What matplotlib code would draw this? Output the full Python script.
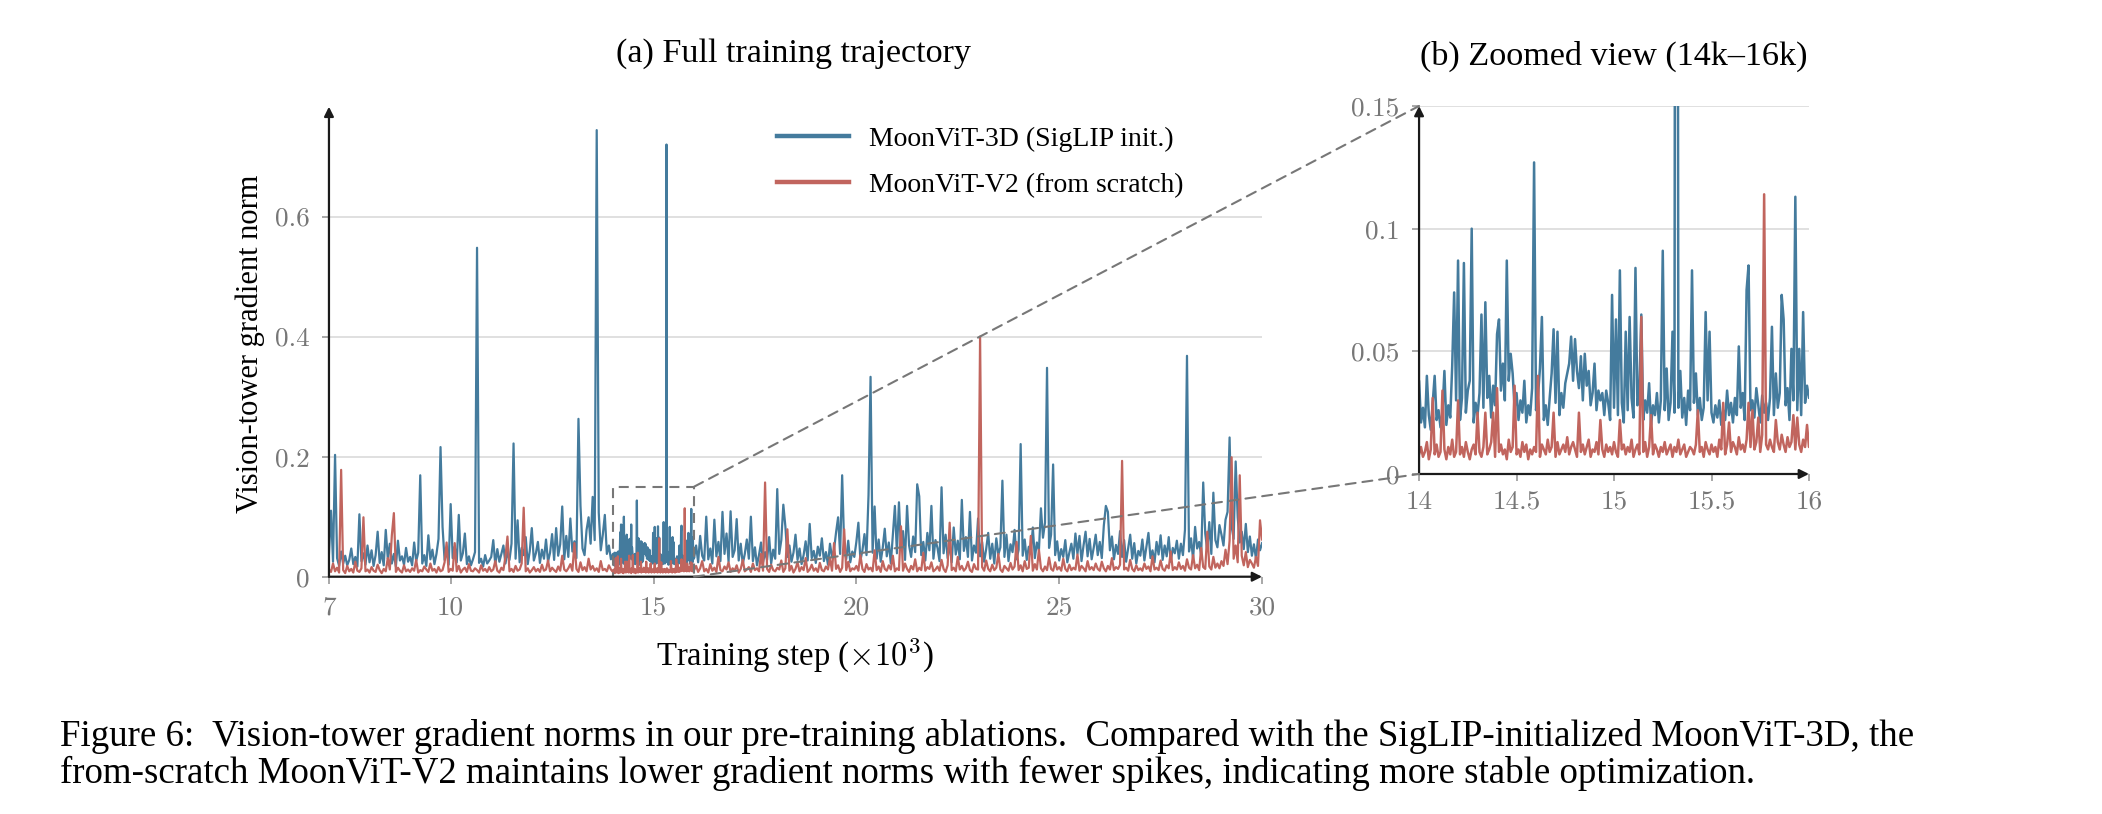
import numpy as np
import matplotlib
matplotlib.use("Agg")
import matplotlib.pyplot as plt
from matplotlib.patches import Rectangle, ConnectionPatch

plt.rcParams['font.family'] = ['Liberation Serif', 'DejaVu Serif']
plt.rcParams['mathtext.fontset'] = 'cm'
plt.rcParams['axes.formatter.use_mathtext'] = True

# training steps (x 10^3): coarse outside the zoom window, fine inside it
early_steps = np.arange(7000, 14000, 50) / 1000
zoom_steps = np.arange(14000, 16000, 10) / 1000
late_steps = np.arange(16000, 30001, 50) / 1000

# vision-tower gradient norm, in units of 1e-3
# MoonViT-3D (SigLIP init.)
siglip_early = [
    38, 110, 25, 203, 31, 18, 42, 22, 35, 19, 28, 47, 21, 33, 17, 104, 26, 39, 20, 52,
    24, 44, 18, 36, 75, 23, 41, 19, 78, 30, 55, 22, 38, 17, 60, 27, 34, 20, 48, 25,
    33, 19, 57, 26, 40, 169, 22, 36, 18, 69, 29, 45, 21, 38, 63, 216, 83, 28, 44, 20,
    121, 31, 50, 24, 103, 27, 39, 72, 21, 34, 19, 29, 41, 548, 23, 30, 17, 36, 22, 27,
    33, 61, 20, 46, 25, 38, 52, 22, 41, 28, 55, 222, 30, 94, 24, 48, 36, 66, 21, 43,
    81, 27, 39, 58, 23, 45, 30, 62, 25, 40, 71, 28, 81, 35, 54, 117, 29, 68, 33, 97,
    42, 59, 31, 263, 118, 47, 36, 78, 99, 55, 133, 61, 744, 107, 44, 70, 103, 38, 52, 29,
]
siglip_zoom = [
    38, 21, 27, 19, 40, 24, 18, 29, 40, 22, 26, 19, 25, 42, 20, 28, 23, 44, 74, 30,
    87, 22, 31, 86, 25, 34, 38, 100, 21, 29, 24, 33, 65, 27, 70, 31, 40, 23, 36, 28,
    57, 63, 34, 45, 30, 87, 38, 49, 41, 27, 33, 22, 30, 25, 38, 21, 28, 24, 35, 127,
    26, 32, 43, 64, 22, 28, 20, 31, 41, 59, 29, 58, 24, 33, 27, 37, 41, 45, 56, 38,
    55, 42, 35, 48, 30, 49, 36, 42, 28, 33, 45, 26, 34, 30, 33, 24, 34, 29, 22, 73,
    27, 63, 24, 83, 29, 21, 58, 26, 64, 31, 23, 84, 28, 35, 65, 22, 30, 25, 37, 20,
    28, 24, 33, 21, 30, 91, 26, 43, 22, 29, 58, 25, 720, 27, 42, 23, 31, 20, 34, 26,
    83, 29, 41, 24, 31, 22, 27, 66, 30, 58, 25, 21, 28, 23, 30, 20, 26, 22, 34, 24,
    29, 21, 31, 24, 52, 27, 33, 22, 75, 85, 26, 30, 23, 35, 28, 21, 32, 25, 29, 22,
    31, 60, 24, 41, 27, 33, 73, 63, 28, 35, 22, 51, 30, 113, 26, 51, 24, 66, 29, 36,
]
siglip_late = [
    31, 52, 24, 68, 35, 27, 100, 29, 47, 22, 95, 34, 58, 26, 108, 38, 72, 25, 109, 33,
    44, 96, 27, 55, 21, 38, 62, 30, 100, 26, 49, 19, 36, 57, 24, 41, 28, 66, 22, 45,
    30, 146, 38, 61, 120, 84, 33, 52, 25, 40, 70, 28, 47, 21, 36, 59, 27, 88, 31, 43,
    23, 50, 35, 64, 26, 41, 20, 55, 32, 45, 74, 99, 38, 169, 51, 29, 60, 24, 42, 33,
    58, 90, 27, 44, 71, 36, 136, 333, 40, 117, 30, 62, 25, 48, 80, 34, 57, 22, 69, 118,
    39, 124, 45, 76, 28, 118, 52, 33, 67, 41, 154, 134, 36, 58, 27, 73, 44, 118, 30, 61,
    48, 26, 149, 39, 70, 31, 55, 24, 82, 37, 60, 29, 128, 43, 66, 33, 108, 27, 52, 40,
    97, 34, 58, 25, 46, 73, 30, 55, 22, 64, 37, 49, 160, 33, 70, 26, 54, 41, 78, 29,
    45, 221, 35, 62, 28, 50, 39, 82, 31, 57, 44, 114, 65, 90, 348, 48, 70, 187, 36, 59,
    27, 46, 33, 61, 24, 40, 55, 30, 72, 38, 68, 26, 52, 75, 34, 63, 29, 48, 70, 36,
    58, 31, 85, 118, 108, 44, 67, 29, 53, 38, 76, 33, 61, 25, 47, 70, 30, 56, 22, 43,
    35, 62, 27, 50, 73, 31, 44, 24, 58, 37, 69, 28, 52, 34, 66, 25, 48, 39, 60, 30,
    55, 36, 78, 368, 42, 64, 29, 83, 47, 58, 35, 157, 72, 44, 91, 38, 140, 61, 49, 86,
    70, 52, 95, 108, 232, 84, 63, 192, 99, 57, 75, 46, 88, 41, 67, 35, 54, 30, 62, 44,
    56,
]

# MoonViT-V2 (from scratch)
scratch_early = [
    12, 8, 22, 9, 15, 7, 178, 11, 6, 18, 9, 13, 7, 25, 10, 8, 14, 99, 9, 12,
    7, 16, 10, 8, 20, 11, 6, 13, 9, 31, 12, 69, 106, 8, 15, 10, 7, 19, 9, 12,
    8, 14, 10, 28, 7, 11, 9, 17, 12, 8, 22, 10, 13, 7, 16, 9, 11, 24, 57, 8,
    13, 10, 56, 9, 18, 7, 12, 15, 8, 21, 10, 9, 14, 11, 7, 19, 10, 13, 8, 16,
    9, 12, 26, 10, 7, 15, 11, 33, 67, 9, 13, 8, 18, 10, 12, 22, 115, 9, 14, 7,
    11, 16, 9, 13, 8, 20, 10, 12, 27, 9, 15, 11, 8, 17, 10, 35, 12, 9, 14, 21,
    10, 56, 13, 8, 24, 11, 16, 9, 30, 12, 18, 10, 14, 8, 26, 11, 13, 9, 19, 12,
]
scratch_zoom = [
    8, 11, 7, 9, 13, 6, 10, 31, 8, 12, 7, 9, 34, 10, 6, 11, 8, 14, 7, 9,
    30, 8, 11, 7, 13, 9, 6, 10, 12, 8, 25, 9, 7, 11, 25, 8, 10, 13, 25, 7,
    35, 9, 12, 8, 10, 6, 14, 9, 11, 36, 8, 10, 7, 13, 9, 12, 6, 10, 8, 11,
    9, 40, 7, 12, 10, 8, 14, 9, 11, 25, 7, 13, 8, 10, 12, 9, 15, 8, 11, 13,
    10, 7, 25, 9, 12, 8, 11, 14, 7, 10, 9, 13, 8, 22, 10, 7, 12, 9, 11, 8,
    13, 9, 7, 22, 10, 12, 8, 11, 9, 14, 7, 10, 12, 8, 64, 9, 13, 7, 11, 24,
    8, 12, 10, 7, 11, 9, 13, 8, 10, 12, 7, 11, 9, 14, 8, 10, 12, 7, 9, 11,
    10, 8, 12, 26, 9, 11, 7, 13, 10, 8, 12, 9, 11, 7, 14, 10, 29, 8, 12, 21,
    9, 13, 11, 8, 15, 10, 12, 9, 14, 29, 11, 26, 10, 13, 23, 9, 16, 114, 12, 10,
    14, 11, 9, 22, 13, 10, 16, 12, 9, 15, 11, 13, 24, 10, 23, 12, 9, 14, 11, 20,
]
scratch_late = [
    11, 18, 8, 14, 26, 9, 13, 7, 21, 10, 15, 8, 33, 11, 9, 17, 12, 24, 8, 14,
    10, 19, 7, 13, 28, 9, 12, 16, 8, 22, 11, 14, 9, 38, 10, 157, 13, 8, 20, 11,
    9, 15, 12, 27, 8, 14, 79, 10, 18, 7, 13, 24, 9, 16, 11, 31, 8, 12, 20, 10,
    14, 8, 23, 11, 9, 17, 12, 30, 10, 56, 13, 19, 8, 15, 79, 11, 25, 9, 14, 12,
    18, 10, 36, 13, 8, 21, 12, 15, 9, 44, 11, 17, 8, 26, 13, 10, 19, 12, 35, 9,
    14, 11, 84, 10, 22, 13, 8, 18, 12, 29, 9, 15, 11, 40, 10, 16, 13, 24, 9, 12,
    17, 10, 28, 13, 8, 19, 90, 11, 15, 9, 33, 12, 18, 10, 14, 25, 11, 8, 21, 13,
    12, 400, 16, 10, 27, 13, 9, 20, 11, 15, 38, 12, 8, 18, 14, 10, 23, 12, 17, 58,
    11, 19, 9, 26, 13, 15, 68, 10, 21, 12, 45, 14, 9, 17, 11, 32, 13, 10, 24, 12,
    16, 10, 30, 13, 9, 20, 11, 15, 12, 37, 10, 18, 14, 9, 26, 12, 16, 11, 22, 13,
    10, 25, 14, 9, 18, 12, 31, 11, 16, 13, 20, 193, 12, 15, 10, 28, 13, 9, 19, 11,
    14, 10, 22, 13, 17, 9, 34, 12, 15, 11, 27, 13, 10, 19, 14, 42, 11, 16, 12, 24,
    13, 18, 10, 29, 15, 12, 36, 14, 20, 11, 48, 16, 13, 75, 17, 12, 33, 15, 22, 14,
    26, 18, 45, 21, 60, 199, 30, 52, 24, 169, 35, 19, 41, 16, 28, 22, 15, 33, 18, 94,
    62,
]

series_labels = ['MoonViT-3D (SigLIP init.)', 'MoonViT-V2 (from scratch)']
caption_lines = [
    'Figure 6:  Vision-tower gradient norms in our pre-training ablations.  '
    'Compared with the SigLIP-initialized MoonViT-3D, the',
    'from-scratch MoonViT-V2 maintains lower gradient norms with fewer spikes, '
    'indicating more stable optimization.',
]

BLUE = '#447b9d'
RED = '#c1655e'
TICK_GREY = '#777777'

steps = np.concatenate([early_steps, zoom_steps, late_steps])
siglip = np.concatenate([siglip_early, siglip_zoom, siglip_late]) / 1000
scratch = np.concatenate([scratch_early, scratch_zoom, scratch_late]) / 1000

fig = plt.figure(figsize=(10.51, 4.07), dpi=200)
ax_a = fig.add_axes([0.1565, 0.2915, 0.4439, 0.5774])
ax_b = fig.add_axes([0.6751, 0.4177, 0.1855, 0.4521])


def style_axes(ax, xticks, xlabels, yticks, ylabels, xpad=4.5):
    for s in ax.spines.values():
        s.set_visible(False)
    ax.set_xticks(xticks, labels=xlabels)
    ax.set_yticks(yticks, labels=ylabels)
    ax.tick_params(direction='out', length=2.5, width=0.6, color='#999999',
                   labelcolor=TICK_GREY, labelsize=9.8, pad=4.5)
    ax.tick_params(axis='x', pad=xpad)
    for lbl in ax.get_xticklabels() + ax.get_yticklabels():
        lbl.set_fontfamily('cmr10')
    ax.grid(axis='y', color='#e0e0e0', lw=0.7)
    ax.set_axisbelow(True)
    arrow = dict(arrowstyle='-|>', color='#1a1a1a', lw=0.8,
                 mutation_scale=7, shrinkA=0, shrinkB=0)
    ax.annotate('', xy=(1, 0), xytext=(0, 0), xycoords='axes fraction',
                arrowprops=arrow, annotation_clip=False, zorder=10)
    ax.annotate('', xy=(0, 1), xytext=(0, 0), xycoords='axes fraction',
                arrowprops=arrow, annotation_clip=False, zorder=10)


# (a) full trajectory
ax_a.plot(steps, siglip, color=BLUE, lw=0.8, label=series_labels[0])
ax_a.plot(steps, scratch, color=RED, lw=0.8, label=series_labels[1])
ax_a.set_xlim(7, 30)
ax_a.set_ylim(0, 0.783)
style_axes(ax_a, [7, 10, 15, 20, 25, 30], ['7', '10', '15', '20', '25', '30'],
           [0, 0.2, 0.4, 0.6], ['0', '0.2', '0.4', '0.6'])
leg = ax_a.legend(loc='upper left', bbox_to_anchor=(0.48, 0.958), frameon=False,
                  fontsize=10, handlelength=2.6, handletextpad=0.7,
                  labelspacing=0.75, borderpad=0, borderaxespad=0)
for ln in leg.get_lines():
    ln.set_linewidth(1.6)

# (b) zoomed view
ax_b.plot(steps, siglip, color=BLUE, lw=0.9)
ax_b.plot(steps, scratch, color=RED, lw=0.9)
ax_b.set_xlim(14, 16)
ax_b.set_ylim(0, 0.15)
style_axes(ax_b, [14, 14.5, 15, 15.5, 16], ['14', '14.5', '15', '15.5', '16'],
           [0, 0.05, 0.1, 0.15], ['0', '0.05', '0.1', '0.15'], xpad=3.3)

# zoom window and connectors
dash = (0, (4.8, 3.3))
ax_a.add_patch(Rectangle((14, 0), 2, 0.15, fill=False, ec='#777777', lw=0.75,
                         ls=dash, zorder=5))
for y in (0.15, 0):
    con = ConnectionPatch(xyA=(16, y), coordsA=ax_a.transData,
                          xyB=(14, y), coordsB=ax_b.transData,
                          color='#777777', lw=0.75, ls=dash, zorder=5)
    fig.add_artist(con)

fig.text(0.3777, 0.934, '(a) Full training trajectory', ha='center', va='center', fontsize=12.3)
fig.text(0.7678, 0.931, '(b) Zoomed view (14k\u201316k)', ha='center', va='center', fontsize=12.3)
fig.text(0.119, 0.578, 'Vision-tower gradient norm', rotation=90, ha='center', va='center',
         fontsize=11)
fig.text(0.378, 0.195, r'Training step ($\times 10^3$)', ha='center', va='center', fontsize=11.8)

fig.text(60 / 2102, 1 - 736 / 814, caption_lines[0], ha='left', va='center', fontsize=13.3)
fig.text(60 / 2102, 1 - 773.5 / 814, caption_lines[1], ha='left', va='center', fontsize=13.3)

fig.savefig('out.png', dpi=200)
